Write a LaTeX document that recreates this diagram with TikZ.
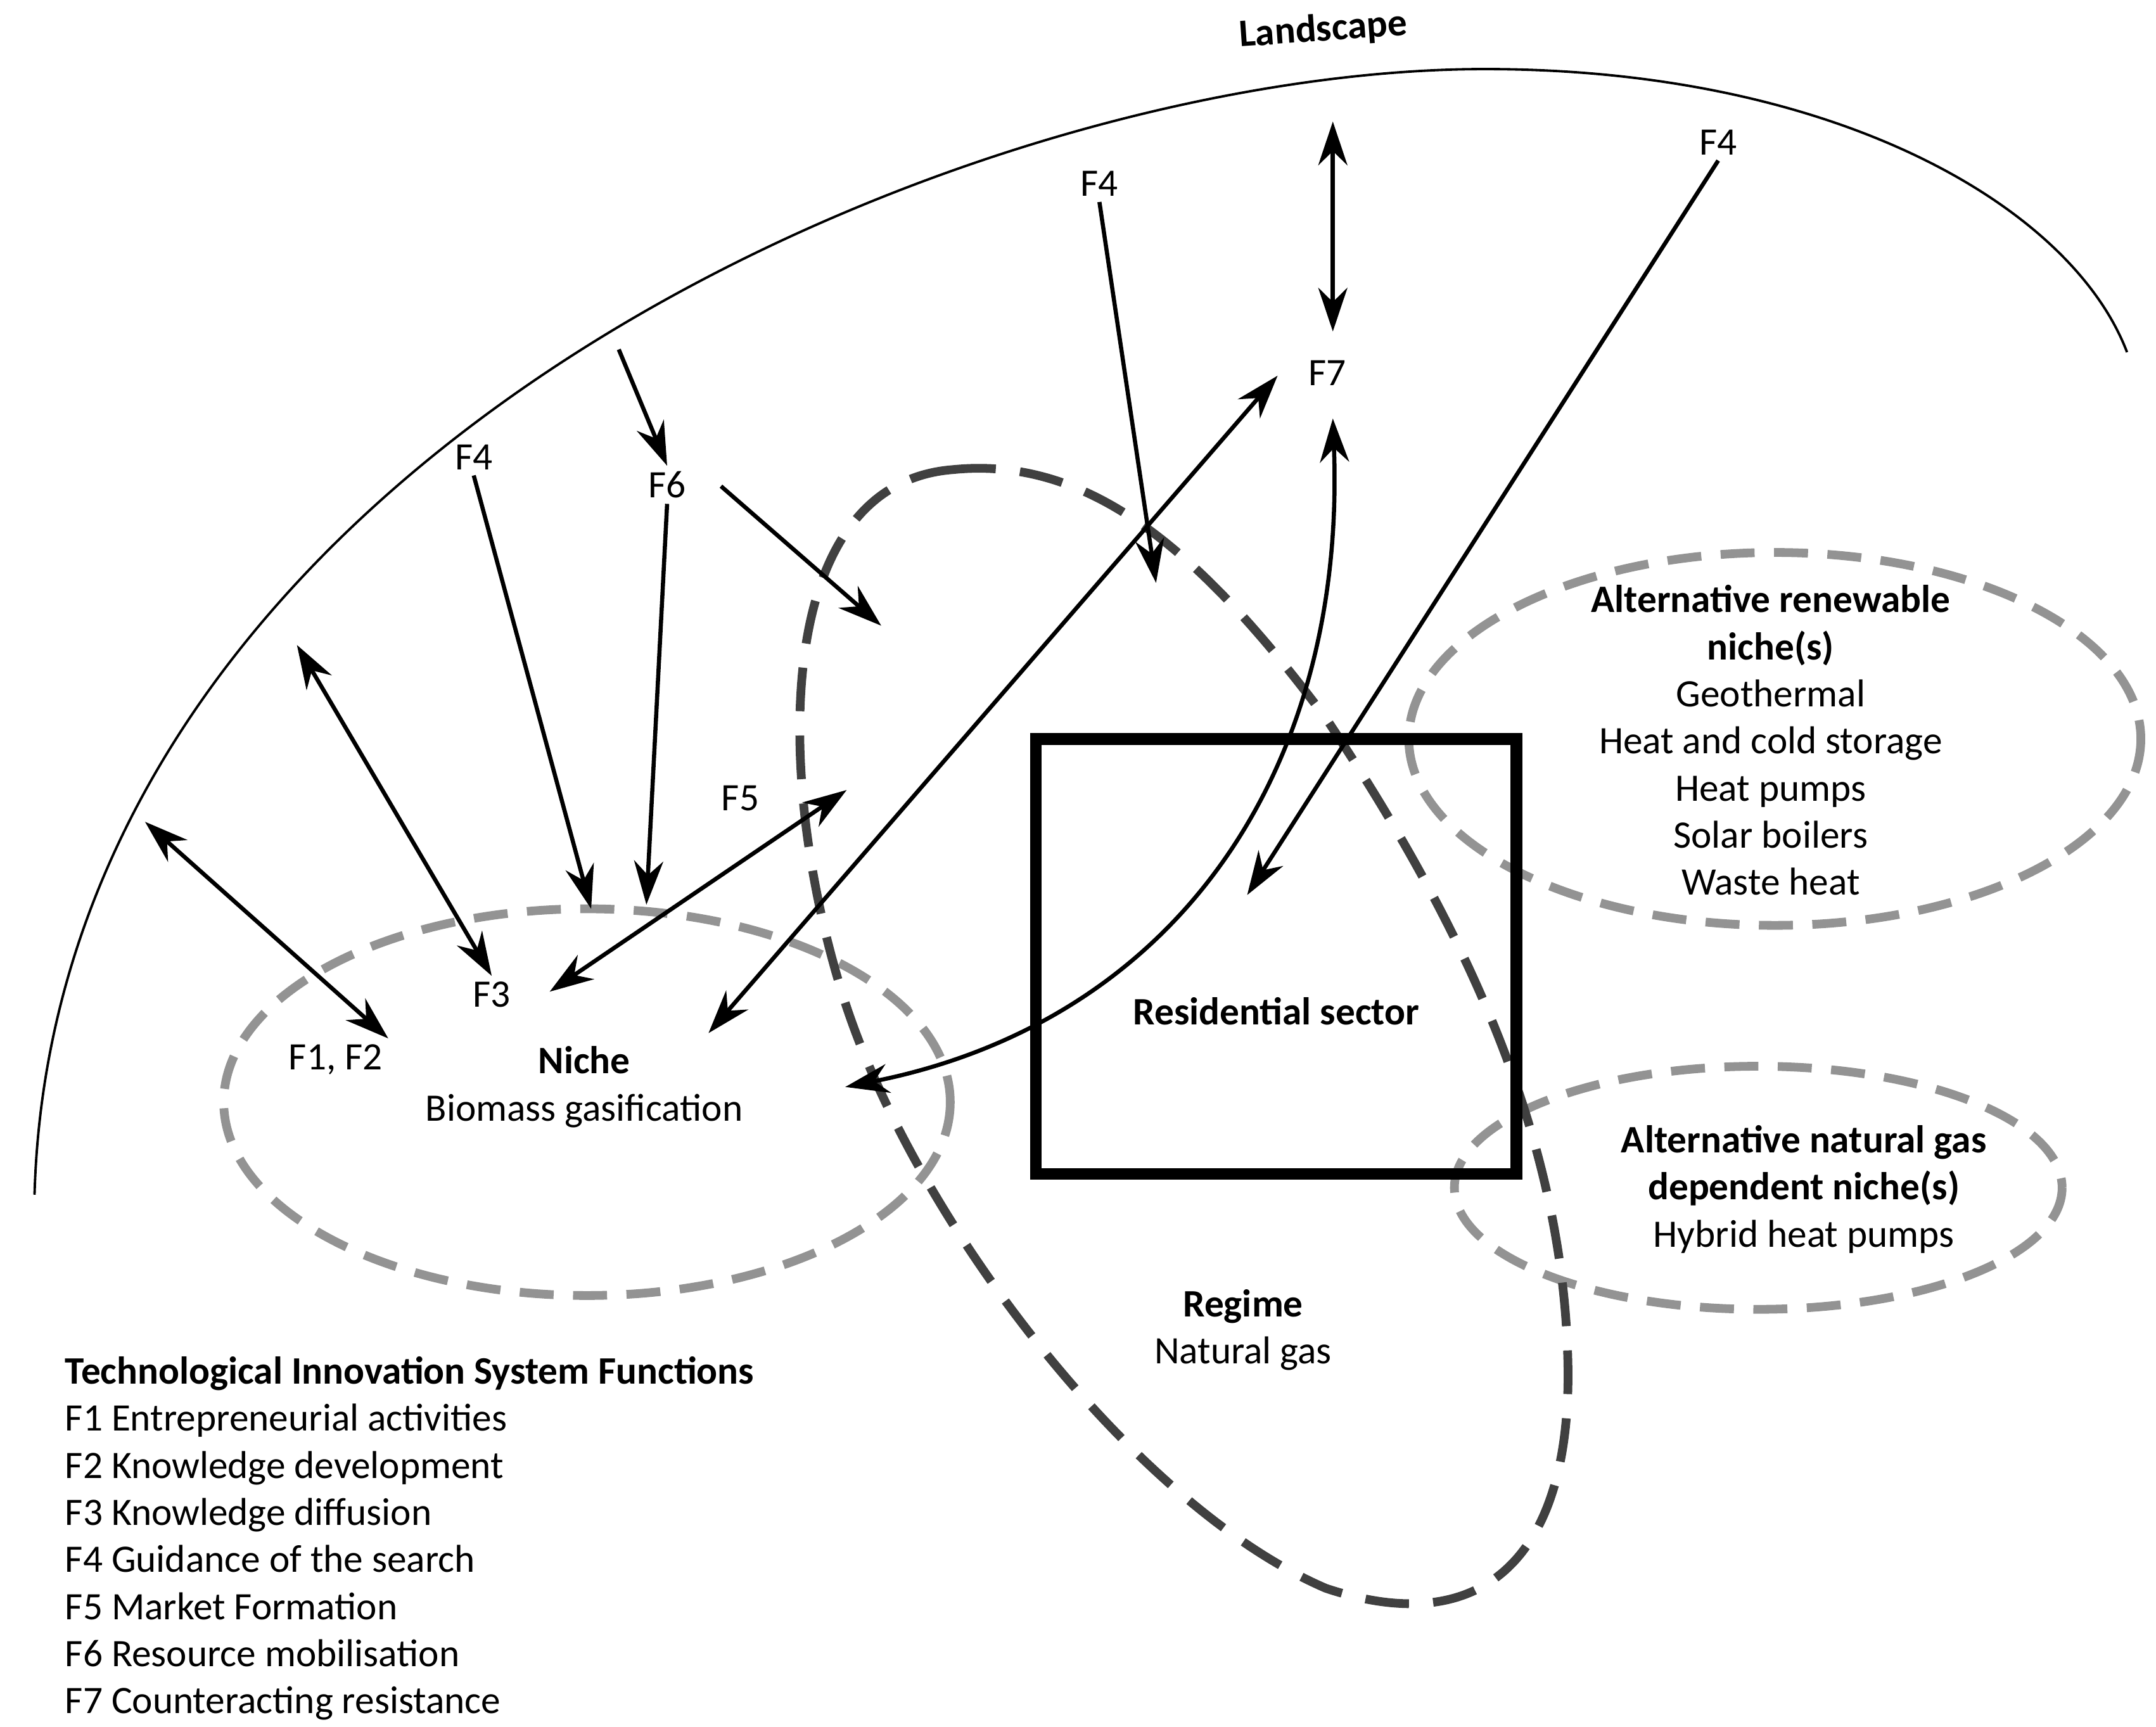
\documentclass[tikz,border=0pt]{standalone}
\usepackage{fontspec}
\setmainfont{Carlito}
\usetikzlibrary{arrows.meta}
\tikzset{
  lbl/.style={font=\fontsize{8}{9.7}\selectfont, inner sep=1pt},
  hd/.style={lbl, font=\fontsize{8}{9.7}\selectfont\bfseries},
  arr/.style={line width=0.85pt, -{Stealth[length=9pt,width=6pt]}},
  darr/.style={line width=0.85pt, {Stealth[length=9pt,width=6pt]}-{Stealth[length=9pt,width=6pt]}},
  nich/.style={line width=1.8pt, gray!85, dash pattern=on 7pt off 4pt},
}
\begin{document}
\begin{tikzpicture}[x=0.01cm, y=-0.01cm]
\useasboundingbox (0,0) rectangle (1561,1250);

% landscape
\draw[line width=0.5pt] (25,865) .. controls (40,330) and (700,50) .. (1075,50) .. controls (1330,50) and (1500,150) .. (1540,255);
\node[hd, rotate=4] (land) at (958,22) {Landscape};

% niches and regime
\draw[nich] (425,798) ellipse [x radius=263, y radius=140];
\draw[nich] (1285,535) ellipse [x radius=265, y radius=135];
\draw[nich] (1273,860) ellipse [x radius=220, y radius=88];
\draw[line width=1.8pt, black!75, dash pattern=on 9pt off 5pt]
  (690,340) .. controls (560,350) and (560,560) .. (610,720)
  .. controls (660,880) and (820,1090) .. (960,1150)
  .. controls (1080,1190) and (1140,1120) .. (1135,980)
  .. controls (1130,820) and (1060,670) .. (960,520)
  .. controls (870,400) and (790,330) .. (690,340);
\draw[line width=2.4pt] (750,535) rectangle (1098,850);

% texts
\node[hd] (res) at (924,732) {Residential sector};
\node[lbl, align=center] (niche) at (423,787) {\textbf{Niche}\\Biomass gasification};
\node[lbl, align=center] (regime) at (900,963) {\textbf{Regime}\\Natural gas};
\node[lbl, align=center] (ren) at (1282,536) {\textbf{Alternative renewable}\\\textbf{niche(s)}\\Geothermal\\Heat and cold storage\\Heat pumps\\Solar boilers\\Waste heat};
\node[lbl, align=center] (ngas) at (1306,861) {\textbf{Alternative natural gas}\\\textbf{dependent niche(s)}\\Hybrid heat pumps};
\node[lbl, align=left, anchor=north west] (legend) at (43,978) {\textbf{Technological Innovation System Functions}\\F1 Entrepreneurial activities\\F2 Knowledge development\\F3 Knowledge diffusion\\F4 Guidance of the search\\F5 Market Formation\\F6 Resource mobilisation\\F7 Counteracting resistance};

% function labels
\node[lbl] (f12) at (243,767) {F1, F2};
\node[lbl] (f3) at (356,720) {F3};
\node[lbl] (f4a) at (343,331) {F4};
\node[lbl] (f6) at (483,351) {F6};
\node[lbl] (f5) at (536,578) {F5};
\node[lbl] (f7) at (961,270) {F7};
\node[lbl] (f4b) at (796,133) {F4};
\node[lbl] (f4c) at (1244,103) {F4};

% free ends
\coordinate (e1) at (105,595);
\coordinate (e2) at (215,467);
\coordinate (e3) at (428,658);
\coordinate (e4) at (468,655);
\coordinate (e5) at (448,253);
\coordinate (e6) at (522,352);
\coordinate (e7) at (638,453);
\coordinate (e8) at (613,572);
\coordinate (e9) at (398,718);
\coordinate (e10) at (513,748);
\coordinate (e11) at (925,272);
\coordinate (e12) at (965,88);
\coordinate (e13) at (965,240);
\coordinate (e14) at (837,422);
\coordinate (e15) at (903,648);
\coordinate (e16) at (965,303);
\coordinate (e17) at (612,787);

% arrows
\draw[darr] (e1) -- (f12.north east);
\draw[darr] (e2) -- (f3.north);
\draw[arr] (f4a.south) -- (e3);
\draw[arr] (f6.south) -- (e4);
\draw[arr] (e5) -- (f6.north);
\draw[arr] (e6) -- (e7);
\draw[darr] (e9) -- (e8);
\draw[darr] (e10) -- (e11);
\draw[darr] (e12) -- (e13);
\draw[arr] (f4b.south) -- (e14);
\draw[arr] (f4c.south) -- (e15);
\draw[darr] (e16) .. controls (975,560) and (850,740) .. (e17);
\end{tikzpicture}
\end{document}
